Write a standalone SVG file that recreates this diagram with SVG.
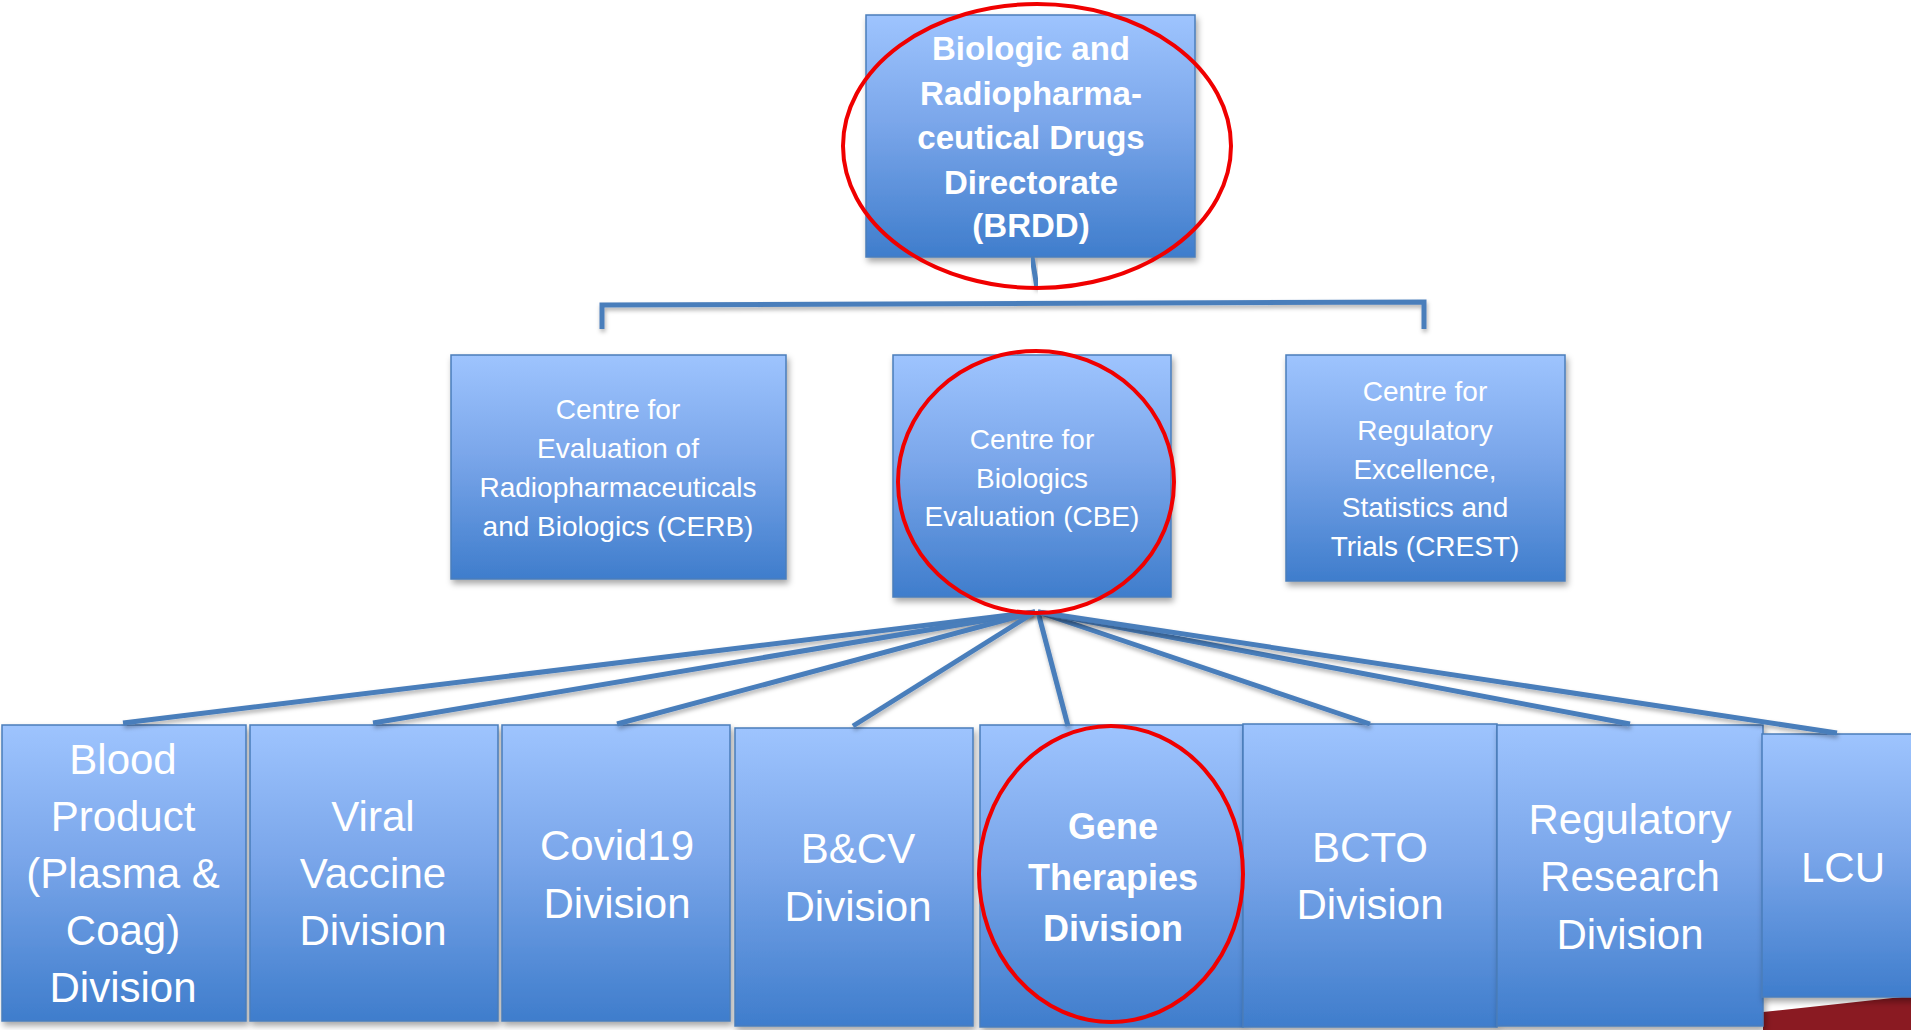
<svg xmlns="http://www.w3.org/2000/svg" width="1911" height="1030" viewBox="0 0 1911 1030">
<defs>
<linearGradient id="g" x1="0" y1="0" x2="0" y2="1">
<stop offset="0" stop-color="#9EC4FE"/>
<stop offset="0.45" stop-color="#7AA6EA"/>
<stop offset="1" stop-color="#3F7DCC"/>
</linearGradient>
<filter id="sh" x="-10%" y="-10%" width="130%" height="130%">
<feDropShadow dx="2" dy="4" stdDeviation="3" flood-color="#000" flood-opacity="0.35"/>
</filter>
<filter id="lsh" x="-10%" y="-50%" width="130%" height="300%">
<feDropShadow dx="1" dy="3" stdDeviation="2" flood-color="#000" flood-opacity="0.3"/>
</filter>
</defs>
<style>
.box{fill:url(#g);stroke:#4A7EBB;stroke-width:1.5;filter:url(#sh)}
.t{font-family:"Liberation Sans",Arial,sans-serif;fill:#fff;text-anchor:middle}
.top{font-size:33px;font-weight:bold}
.mid{font-size:28px}
.bot{font-size:42px}
.gene{font-size:36px;font-weight:bold}
.c{stroke:#4A7EBB;stroke-width:5;fill:none;filter:url(#lsh)}
.ring{fill:none;stroke:#F00000;stroke-width:4}
</style>
<rect width="1911" height="1030" fill="#fff"/>
<polygon points="1763,1012 1911,996 1911,1030 1763,1030" fill="#8A1A22"/>

<g id="brdd">
<rect class="box" x="866" y="15" width="329" height="242"/>
<text class="t top"><tspan x="1031" y="60">Biologic and</tspan><tspan x="1031" y="105">Radiopharma-</tspan><tspan x="1031" y="149">ceutical Drugs</tspan><tspan x="1031" y="194">Directorate</tspan><tspan x="1031" y="237">(BRDD)</tspan></text>
</g>

<g id="cerb">
<rect class="box" x="451" y="355" width="335" height="224"/>
<text class="t mid"><tspan x="618" y="419">Centre for</tspan><tspan x="618" y="458">Evaluation of</tspan><tspan x="618" y="497">Radiopharmaceuticals</tspan><tspan x="618" y="536">and Biologics (CERB)</tspan></text>
</g>
<g id="cbe">
<rect class="box" x="893" y="355" width="278" height="242"/>
<text class="t mid"><tspan x="1032" y="449">Centre for</tspan><tspan x="1032" y="488">Biologics</tspan><tspan x="1032" y="526">Evaluation (CBE)</tspan></text>
</g>
<g id="crest">
<rect class="box" x="1286" y="355" width="279" height="226"/>
<text class="t mid"><tspan x="1425" y="401">Centre for</tspan><tspan x="1425" y="440">Regulatory</tspan><tspan x="1425" y="479">Excellence,</tspan><tspan x="1425" y="517">Statistics and</tspan><tspan x="1425" y="556">Trials (CREST)</tspan></text>
</g>

<g id="blood">
<rect class="box" x="2" y="725" width="244" height="296"/>
<text class="t bot"><tspan x="123" y="774">Blood</tspan><tspan x="123" y="831">Product</tspan><tspan x="123" y="888">(Plasma &amp;</tspan><tspan x="123" y="945">Coag)</tspan><tspan x="123" y="1002">Division</tspan></text>
</g>
<g id="viral">
<rect class="box" x="250" y="725" width="248" height="296"/>
<text class="t bot"><tspan x="373" y="831">Viral</tspan><tspan x="373" y="888">Vaccine</tspan><tspan x="373" y="945">Division</tspan></text>
</g>
<g id="covid">
<rect class="box" x="502" y="725" width="228" height="296"/>
<text class="t bot"><tspan x="617" y="860">Covid19</tspan><tspan x="617" y="918">Division</tspan></text>
</g>
<g id="bcv">
<rect class="box" x="735" y="728" width="238" height="298"/>
<text class="t bot"><tspan x="858" y="863">B&amp;CV</tspan><tspan x="858" y="921">Division</tspan></text>
</g>
<g id="gene">
<rect class="box" x="980" y="725" width="263" height="302"/>
<text class="t gene"><tspan x="1113" y="839">Gene</tspan><tspan x="1113" y="890">Therapies</tspan><tspan x="1113" y="941">Division</tspan></text>
</g>
<g id="bcto">
<rect class="box" x="1243" y="724" width="254" height="303"/>
<text class="t bot"><tspan x="1370" y="862">BCTO</tspan><tspan x="1370" y="919">Division</tspan></text>
</g>
<g id="rrd">
<rect class="box" x="1497" y="725" width="266" height="301"/>
<text class="t bot"><tspan x="1630" y="834">Regulatory</tspan><tspan x="1630" y="891">Research</tspan><tspan x="1630" y="949">Division</tspan></text>
</g>
<g id="lcu">
<rect class="box" x="1762" y="734" width="160" height="263"/>
<text class="t bot"><tspan x="1843" y="882">LCU</tspan></text>
</g>

<g id="connectors">
<line class="c" x1="1032" y1="257" x2="1037" y2="288"/>
<polyline class="c" points="602,329 602,305 1424,302 1424,329"/>
<line class="c" x1="1031" y1="304" x2="1031" y2="329"/>
<line class="c" x1="1040" y1="583" x2="1040" y2="610"/>
<line class="c" x1="1035" y1="612" x2="123" y2="723"/>
<line class="c" x1="1035" y1="612" x2="373" y2="723"/>
<line class="c" x1="1035" y1="612" x2="617" y2="724"/>
<line class="c" x1="1035" y1="612" x2="853" y2="726"/>
<line class="c" x1="1038" y1="612" x2="1068" y2="726"/>
<line class="c" x1="1038" y1="612" x2="1370" y2="724"/>
<line class="c" x1="1038" y1="612" x2="1630" y2="724"/>
<line class="c" x1="1038" y1="612" x2="1837" y2="733"/>
</g>

<g id="highlights">
<ellipse class="ring" cx="1037" cy="146" rx="194" ry="142"/>
<ellipse class="ring" cx="1036" cy="482" rx="138" ry="131"/>
<ellipse class="ring" cx="1111" cy="874" rx="132" ry="148"/>
</g>
</svg>
